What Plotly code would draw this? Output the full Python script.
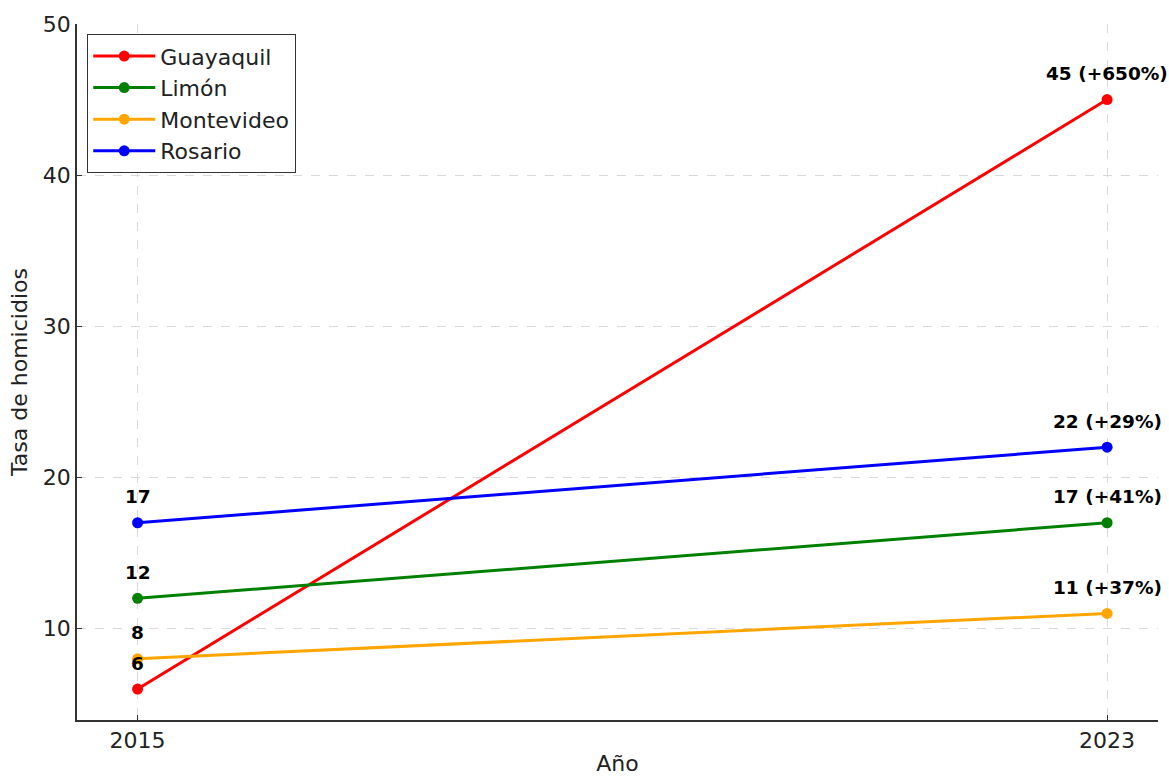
import plotly.graph_objects as go

years = [2015, 2023]
cities = ["Guayaquil", "Limón", "Montevideo", "Rosario"]
values_2015 = [6, 12, 8, 17]
values_2023 = [45, 17, 11, 22]
changes = ["+650%", "+41%", "+37%", "+29%"]
colors = ["#FF0000", "#008000", "#FFA500", "#0000FF"]

FONT = "DejaVu Sans"

fig = go.Figure()
for i, city in enumerate(cities):
    fig.add_trace(go.Scatter(
        x=years, y=[values_2015[i], values_2023[i]],
        mode="lines+markers", name=city, legendgroup=city,
        line=dict(color=colors[i], width=3),
        marker=dict(color=colors[i], size=11),
        cliponaxis=False,
    ))
    fig.add_annotation(x=years[0], y=values_2015[i], xref="x", yref="y",
                       text=f"<b>{values_2015[i]}</b>", showarrow=False,
                       yshift=26, font=dict(family=FONT, size=18.5, color="black"))
    fig.add_annotation(x=years[1], y=values_2023[i], xref="x", yref="y",
                       text=f"<b>{values_2023[i]} ({changes[i]})</b>", showarrow=False,
                       yshift=26, font=dict(family=FONT, size=18.5, color="black"))

fig.update_layout(
    width=1169, height=776,
    margin=dict(l=77, r=11, t=24, b=56, autoexpand=False),
    paper_bgcolor="white", plot_bgcolor="white",
    font=dict(family=FONT, size=22, color="#222222"),
    showlegend=True,
    legend=dict(x=0.0093, y=0.9856, xanchor="left", yanchor="top",
                bgcolor="white", bordercolor="#333333", borderwidth=1.2,
                font=dict(family=FONT, size=22, color="#222222"),
                tracegroupgap=0, itemwidth=62),
)
fig.update_xaxes(
    range=[2014.5, 2023.42], tickvals=years, ticktext=[str(y) for y in years],
    showgrid=True, gridcolor="#d9d9d9", griddash="dash", gridwidth=1,
    showline=True, linecolor="#333333", linewidth=1.5,
    ticks="inside", ticklen=5, tickcolor="#333333",
    zeroline=False, automargin=False,
    title=dict(text="Año", font=dict(family=FONT, size=22), standoff=12),
)
fig.update_yaxes(
    range=[3.95, 50], tickvals=[10, 20, 30, 40, 50],
    showgrid=True, gridcolor="#d9d9d9", griddash="dash", gridwidth=1,
    showline=True, linecolor="#333333", linewidth=1.5,
    ticks="inside", ticklen=5, tickcolor="#333333",
    zeroline=False, automargin=False,
    title=dict(text="Tasa de homicidios", font=dict(family=FONT, size=22), standoff=9),
)

fig.write_html(
    "out.html",
    config={"displayModeBar": False},
    post_script="document.body.style.margin='0';document.body.style.overflow='hidden';",
)
